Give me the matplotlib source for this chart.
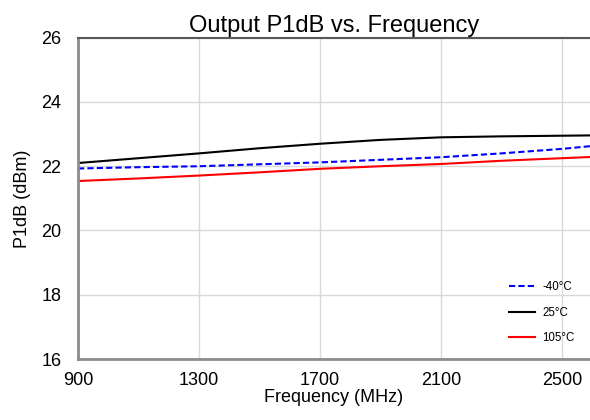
import matplotlib
matplotlib.use("Agg")
import matplotlib.pyplot as plt

plt.rcParams['font.family'] = ['Liberation Sans', 'DejaVu Sans']

# values every 200 MHz
freq = [900, 1100, 1300, 1500, 1700, 1900, 2100, 2300, 2500, 2600]
p1db_m40 = [21.93, 21.97, 22.00, 22.06, 22.12, 22.20, 22.28, 22.40, 22.54, 22.63]
p1db_25 = [22.10, 22.25, 22.40, 22.56, 22.70, 22.82, 22.90, 22.93, 22.95, 22.96]
p1db_105 = [21.54, 21.62, 21.71, 21.81, 21.92, 22.00, 22.07, 22.17, 22.25, 22.29]
xticks = [900, 1300, 1700, 2100, 2500]
yticks = [16, 18, 20, 22, 24, 26]

fig = plt.figure(figsize=(5.9, 4.2), dpi=100)
ax = fig.add_axes([0.1322, 0.1452, 0.8678, 0.765])

ax.plot(freq, p1db_m40, color='#0000ff', linestyle=(0, (3, 1.5)), linewidth=1.5, label='-40°C')
ax.plot(freq, p1db_25, color='black', linewidth=1.5, label='25°C')
ax.plot(freq, p1db_105, color='#ff0000', linewidth=1.5, label='105°C')

ax.set_xlim(900, 2593)
ax.set_ylim(16, 26)
ax.set_xticks(xticks)
ax.set_yticks(yticks)
ax.grid(True, color='#d9d9d9', linewidth=1)
ax.set_axisbelow(True)
ax.tick_params(axis='x', length=0, labelsize=13, pad=9)
ax.tick_params(axis='y', length=0, labelsize=13, pad=12)

ax.spines['right'].set_visible(False)
ax.spines['top'].set_color('#595959')
ax.spines['top'].set_linewidth(1.5)
ax.spines['left'].set_color('#8c8c8c')
ax.spines['left'].set_linewidth(2)
ax.spines['bottom'].set_color('#8c8c8c')
ax.spines['bottom'].set_linewidth(2)

ax.set_title('Output P1dB vs. Frequency', fontsize=17, pad=4)
ax.set_xlabel('Frequency (MHz)', fontsize=13, labelpad=0)
ax.set_ylabel('P1dB (dBm)', fontsize=13, labelpad=7)

ax.legend(loc='lower right', fontsize=8.3, frameon=False, handlelength=2.3,
          handletextpad=0.6, labelspacing=1.15, bbox_to_anchor=(0.99, 0.015))

fig.savefig('out.png', dpi=100)
